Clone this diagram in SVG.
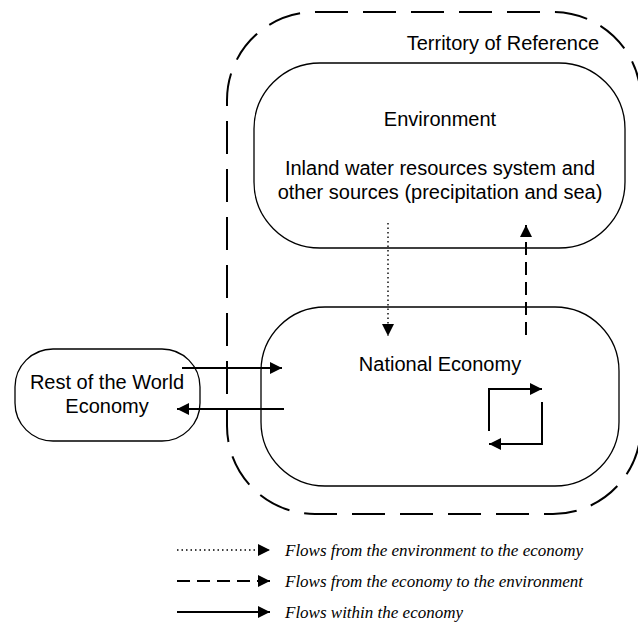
<svg xmlns="http://www.w3.org/2000/svg" width="638" height="622" viewBox="0 0 638 622">
<defs>
<style>
.box{fill:#fff;stroke:#000;stroke-width:1.3}
.t{font-family:"Liberation Sans",Arial,sans-serif;font-size:20px;fill:#000;text-anchor:middle}
.lg{font-family:"Liberation Serif","Times New Roman",serif;font-size:17px;font-style:italic;fill:#000}
.a{fill:none;stroke:#000;stroke-width:2}
.dot{stroke-dasharray:1.5 3;stroke-width:1.4}
.dash{stroke-dasharray:13 7}
</style>
<marker id="ah" viewBox="0 0 10 10" refX="10" refY="5" markerWidth="14" markerHeight="12" markerUnits="userSpaceOnUse" orient="auto">
<path d="M0,0 L10,5 L0,10 z" fill="#000"/>
</marker>
</defs>
<rect id="territory" x="227" y="12" width="414" height="502" rx="88" ry="88" fill="none" stroke="#000" stroke-width="2" stroke-dasharray="33 15"/>
<text class="t" x="599" y="50" style="text-anchor:end">Territory of Reference</text>
<g id="environment">
<rect class="box" x="254" y="63" width="371" height="185" rx="66" ry="66"/>
<text class="t" x="440" y="126">Environment</text>
<text class="t" x="440" y="175">Inland water resources system and</text>
<text class="t" x="440" y="199">other sources (precipitation and sea)</text>
</g>
<g id="national-economy">
<rect class="box" x="261" y="307" width="358" height="179" rx="64" ry="64"/>
<text class="t" x="440" y="371">National Economy</text>
</g>
<g id="rest-of-world">
<rect class="box" x="15" y="349" width="185" height="92" rx="38" ry="38"/>
<text class="t" x="107" y="389">Rest of the World</text>
<text class="t" x="107" y="413">Economy</text>
</g>
<g id="connectors">
<line class="a dot" x1="388" y1="223" x2="388" y2="336" marker-end="url(#ah)"/>
<line class="a dash" x1="526" y1="335" x2="526" y2="225" marker-end="url(#ah)"/>
<line class="a" x1="182" y1="368" x2="282" y2="368" marker-end="url(#ah)"/>
<line class="a" x1="284" y1="409" x2="177" y2="409" marker-end="url(#ah)"/>
<polyline class="a" points="489,431 489,389 542,389" marker-end="url(#ah)"/>
<polyline class="a" points="542,402 542,444 489,444" marker-end="url(#ah)"/>
</g>
<g id="legend">
<line class="a dot" x1="177" y1="550" x2="270" y2="550" marker-end="url(#ah)"/>
<text class="lg" x="285" y="556">Flows from the environment to the economy</text>
<line class="a dash" x1="177" y1="581" x2="270" y2="581" marker-end="url(#ah)"/>
<text class="lg" x="285" y="587">Flows from the economy to the environment</text>
<line class="a" x1="177" y1="612" x2="270" y2="612" marker-end="url(#ah)"/>
<text class="lg" x="285" y="618">Flows within the economy</text>
</g>
</svg>
